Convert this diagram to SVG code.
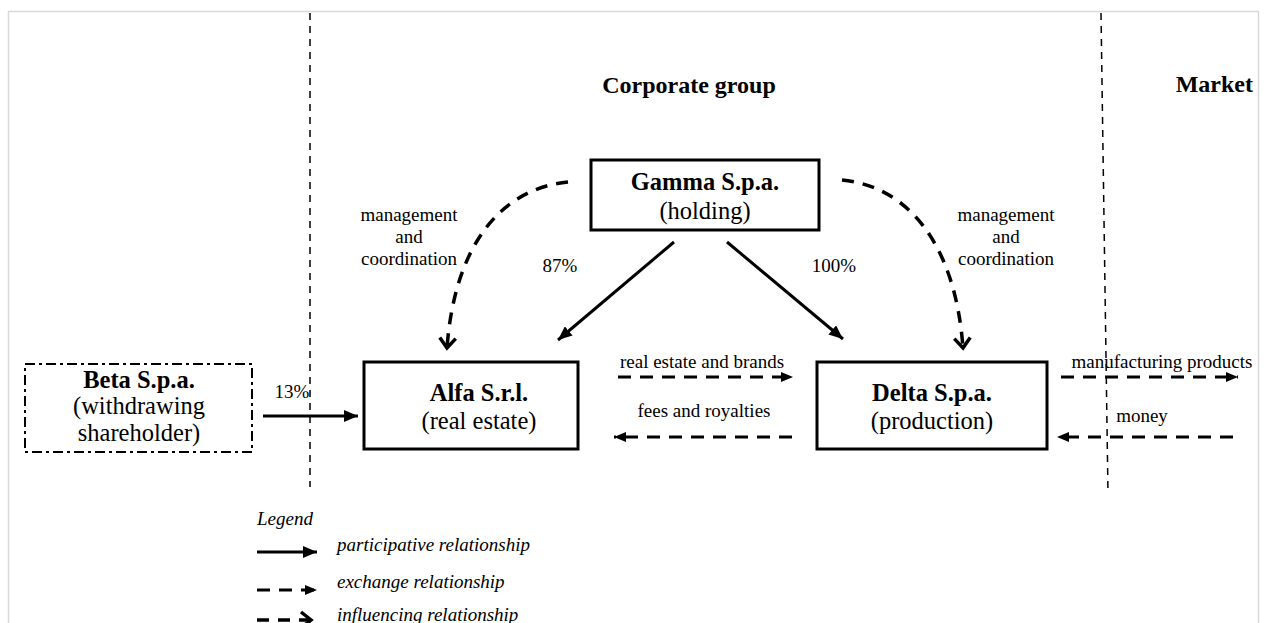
<svg xmlns="http://www.w3.org/2000/svg" width="1266" height="623" viewBox="0 0 1266 623">
<style>
text{font-family:"Liberation Serif","Tinos","Times New Roman","DejaVu Serif",serif;fill:#000}
.b{font-weight:bold}
.box{fill:#fff;stroke:#000;stroke-width:3}
.lbl{font-size:19px}
.nm{font-size:24.5px}
.it{font-style:italic;font-size:19px}
.solid{fill:none;stroke:#000;stroke-width:3}
.exch{fill:none;stroke:#000;stroke-width:3;stroke-dasharray:13 9}
.infl{fill:none;stroke:#000;stroke-width:3.5;stroke-dasharray:12 9}
.sep{fill:none;stroke:#000;stroke-width:1.5;stroke-dasharray:7 6}
</style>
<defs>
<marker id="solidHead" markerUnits="userSpaceOnUse" markerWidth="16" markerHeight="12" refX="14" refY="6" orient="auto">
<path d="M0,0 L14,6 L0,12 Z" fill="#000"/>
</marker>
<marker id="exchHead" markerUnits="userSpaceOnUse" markerWidth="14" markerHeight="12" refX="12" refY="6" orient="auto">
<path d="M0,1 L12,6 L0,11 Z" fill="#000"/>
</marker>
<marker id="inflHead" markerUnits="userSpaceOnUse" markerWidth="16" markerHeight="20" refX="12" refY="10" orient="auto">
<path d="M2,2 L12,10 L2,18" fill="none" stroke="#000" stroke-width="3.5"/>
</marker>
</defs>
<rect width="1266" height="623" fill="#fff"/>
<rect x="8.5" y="11.5" width="1250" height="640" fill="none" stroke="#d9d9d9" stroke-width="1.5"/>

<g id="separators">
<line class="sep" x1="310" y1="13" x2="310" y2="487"/>
<line class="sep" x1="1101" y1="13" x2="1108" y2="494"/>
</g>

<g id="titles">
<text class="b" x="689" y="93" font-size="24" text-anchor="middle">Corporate group</text>
<text class="b" x="1253" y="92" font-size="24" text-anchor="end">Market</text>
</g>

<g id="connectors">
<line class="solid" x1="263" y1="416" x2="358" y2="416" marker-end="url(#solidHead)"/>
<line class="solid" x1="674" y1="242" x2="558" y2="340" marker-end="url(#solidHead)"/>
<line class="solid" x1="727" y1="242" x2="843" y2="339" marker-end="url(#solidHead)"/>
<path class="infl" d="M568,182 C505,188 455,240 447,348" marker-end="url(#inflHead)"/>
<path class="infl" d="M842,180 C905,186 955,240 963,348" marker-end="url(#inflHead)"/>
<line class="exch" x1="618" y1="377" x2="793" y2="377" marker-end="url(#exchHead)"/>
<line class="exch" x1="792" y1="437" x2="614" y2="437" marker-end="url(#exchHead)"/>
<line class="exch" x1="1061" y1="377" x2="1238" y2="377" marker-end="url(#exchHead)"/>
<line class="exch" x1="1233" y1="437" x2="1057" y2="437" marker-end="url(#exchHead)"/>
</g>

<g id="connector-labels">
<text class="lbl" x="292" y="398" text-anchor="middle">13%</text>
<text class="lbl" x="560" y="272" text-anchor="middle">87%</text>
<text class="lbl" x="834" y="272" text-anchor="middle">100%</text>
<text class="lbl" x="409" y="221" text-anchor="middle">management</text>
<text class="lbl" x="409" y="243" text-anchor="middle">and</text>
<text class="lbl" x="409" y="265" text-anchor="middle">coordination</text>
<text class="lbl" x="1006" y="221" text-anchor="middle">management</text>
<text class="lbl" x="1006" y="243" text-anchor="middle">and</text>
<text class="lbl" x="1006" y="265" text-anchor="middle">coordination</text>
<text class="lbl" x="702" y="368" text-anchor="middle">real estate and brands</text>
<text class="lbl" x="704" y="417" text-anchor="middle">fees and royalties</text>
<text class="lbl" x="1162" y="368" text-anchor="middle">manufacturing products</text>
<text class="lbl" x="1142" y="422" text-anchor="middle">money</text>
</g>

<g id="beta">
<rect x="25" y="364" width="227" height="88" fill="#fff" stroke="#000" stroke-width="2" stroke-dasharray="10 4 3 4"/>
<text class="nm b" x="139" y="388" text-anchor="middle">Beta S.p.a.</text>
<text class="nm" x="139" y="414" text-anchor="middle">(withdrawing</text>
<text class="nm" x="139" y="441" text-anchor="middle">shareholder)</text>
</g>

<g id="gamma">
<rect class="box" x="591" y="160" width="228" height="70"/>
<text class="nm b" x="705" y="190" text-anchor="middle">Gamma S.p.a.</text>
<text class="nm" x="705" y="219" text-anchor="middle">(holding)</text>
</g>

<g id="alfa">
<rect class="box" x="364" y="362" width="214" height="87"/>
<text class="nm b" x="479" y="401" text-anchor="middle">Alfa S.r.l.</text>
<text class="nm" x="479" y="429" text-anchor="middle">(real estate)</text>
</g>

<g id="delta">
<rect class="box" x="817" y="362" width="230" height="87"/>
<text class="nm b" x="932" y="401" text-anchor="middle">Delta S.p.a.</text>
<text class="nm" x="932" y="429" text-anchor="middle">(production)</text>
</g>

<g id="legend">
<text class="it" x="257" y="525">Legend</text>
<line class="solid" x1="257" y1="552" x2="317" y2="552" marker-end="url(#solidHead)"/>
<text class="it" x="337" y="551">participative relationship</text>
<line class="exch" x1="257" y1="590" x2="317" y2="590" stroke-dasharray="11 12" marker-end="url(#exchHead)"/>
<text class="it" x="337" y="588">exchange relationship</text>
<line class="infl" x1="257" y1="620" x2="311" y2="620" stroke-dasharray="11 12" marker-end="url(#inflHead)"/>
<text class="it" x="337" y="621">influencing relationship</text>
</g>
</svg>
